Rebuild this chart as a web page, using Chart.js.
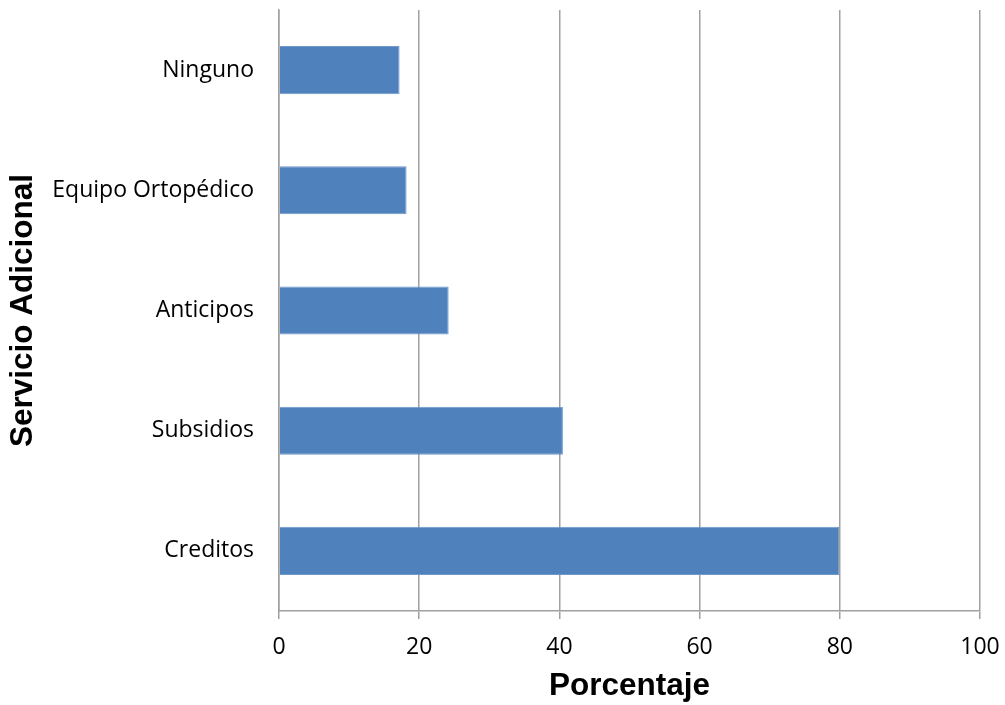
<!DOCTYPE html>
<html>
<head>
<meta charset="utf-8">
<script src="https://cdn.jsdelivr.net/npm/chart.js@4.4.1/dist/chart.umd.min.js"></script>
<style>
  html, body { margin: 0; padding: 0; background: #fff; }
</style>
</head>
<body>
<canvas id="myChart" width="1005" height="705"></canvas>
<script>
// Servicios adicionales y su porcentaje
const servicios = ["Ninguno", "Equipo Ortopédico", "Anticipos", "Subsidios", "Creditos"];
const porcentajes = [17.2, 18.2, 24.2, 40.5, 79.9];
const xTicks = [0, 20, 40, 60, 80, 100];

const gridColor = "#a0a0a0";

function renderChart() {
  const ctx = document.getElementById("myChart").getContext("2d");

  new Chart(ctx, {
    type: "bar",
    data: {
      labels: servicios,
      datasets: [
        {
          label: "Porcentaje",
          data: porcentajes,
          backgroundColor: "#4f81bd",
          borderColor: "#6f98cb",
          borderWidth: 1,
          barPercentage: 0.4,
          categoryPercentage: 1,
        },
      ],
    },
    options: {
      indexAxis: "y",
      responsive: false,
      animation: false,
      layout: { padding: { top: 10, right: 25, left: 0, bottom: 0 } },
      plugins: {
        legend: { display: false },
        tooltip: { enabled: false },
      },
      scales: {
        x: {
          min: 0,
          max: 100,
          afterBuildTicks: (scale) => {
            scale.ticks = xTicks.map((v) => ({ value: v }));
          },
          afterFit: (scale) => {
            scale.height = 94;
            scale.paddingLeft = 0;
            scale.paddingRight = 0;
          },
          grid: {
            color: gridColor,
            lineWidth: 1.5,
            tickLength: 8,
          },
          border: { color: gridColor, width: 1.5 },
          ticks: {
            color: "#000",
            padding: 15,
            maxRotation: 0,
            font: { family: "Open Sans", size: 23 },
          },
          title: {
            display: true,
            text: "Porcentaje",
            color: "#000",
            padding: { top: 0, bottom: 0 },
            font: { family: "Liberation Sans", size: 31.5, weight: "bold" },
          },
        },
        y: {
          afterFit: (scale) => {
            scale.width = 279;
            scale.paddingTop = 0;
            scale.paddingBottom = 0;
          },
          grid: { display: false, drawTicks: false },
          border: { display: true, color: gridColor, width: 1.5 },
          ticks: {
            color: "#000",
            padding: 25,
            font: { family: "Open Sans", size: 23 },
          },
          title: {
            display: true,
            text: "Servicio Adicional",
            color: "#000",
            padding: { top: 4, bottom: 0 },
            font: { family: "Liberation Sans", size: 31.5, weight: "bold" },
          },
        },
      },
    },
  });
}

renderChart();
</script>
</body>
</html>
